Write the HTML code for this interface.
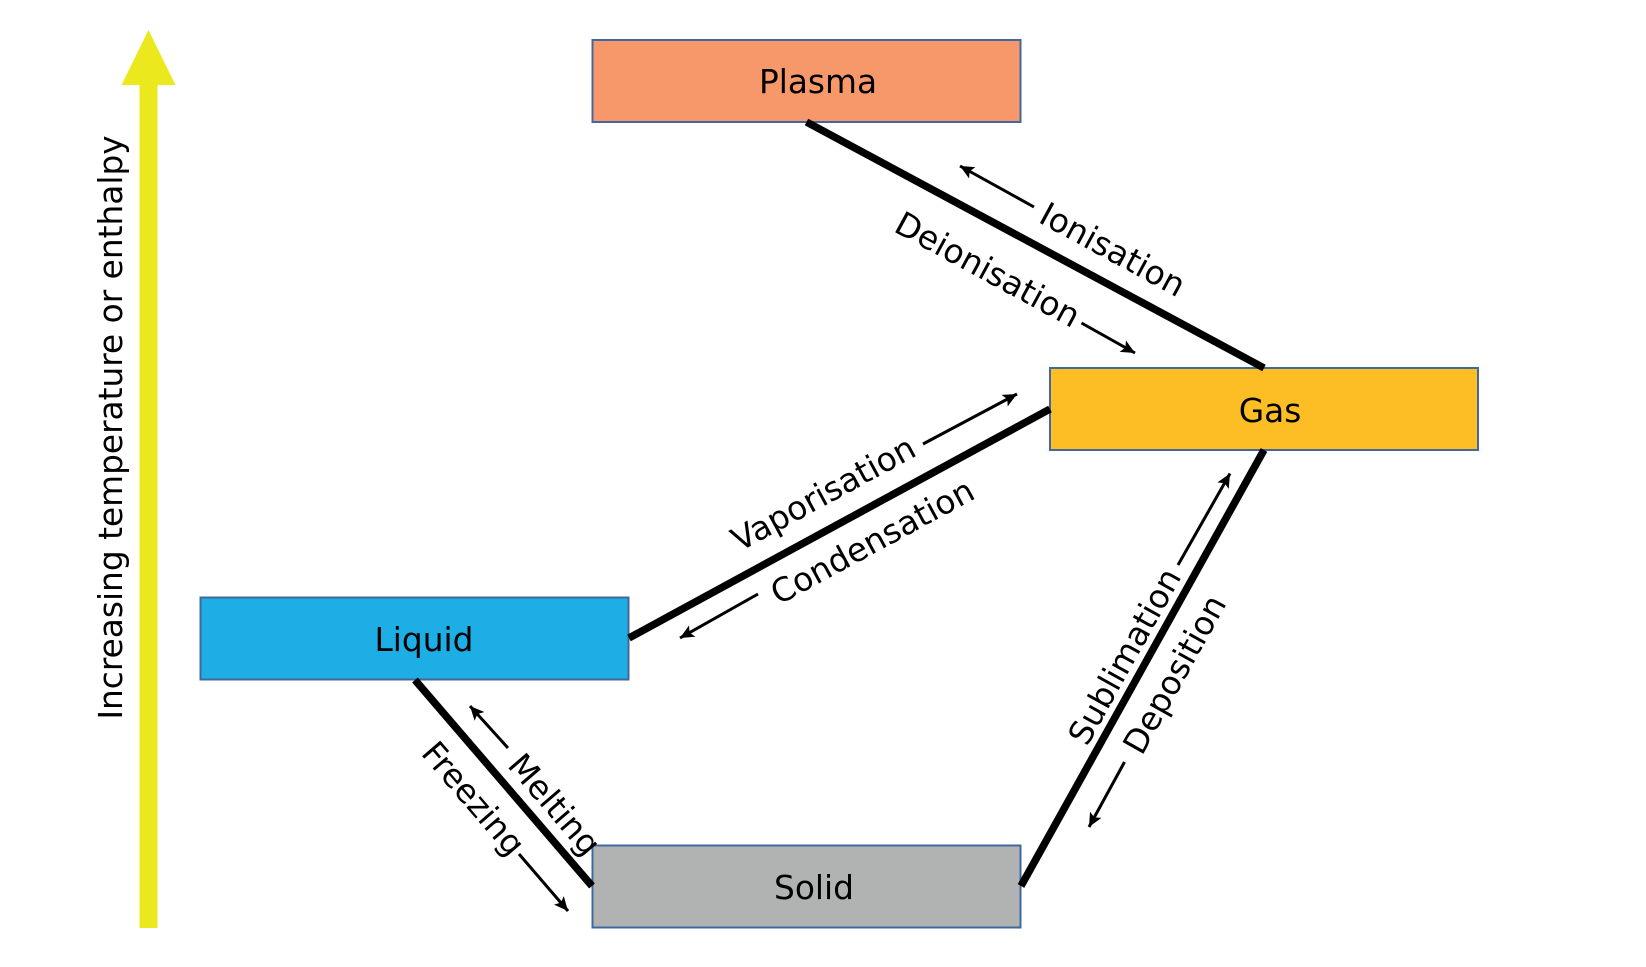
<!DOCTYPE html>
<html><head><meta charset="utf-8"><style>
html,body{margin:0;padding:0;background:#fff;width:1646px;height:967px;overflow:hidden}
svg{display:block}
text{font-family:"DejaVu Sans",sans-serif;font-size:32.8px;fill:#000;text-anchor:middle}
.b{stroke:#41689c;stroke-width:2}
.l{stroke:#000;stroke-width:7.5;fill:none}
.a{stroke:#000;stroke-width:3;fill:none;marker-end:url(#m)}
</style></head><body>
<svg width="1646" height="967" viewBox="0 0 1646 967" xmlns="http://www.w3.org/2000/svg">
<defs><marker id="m" markerUnits="userSpaceOnUse" markerWidth="15" markerHeight="13" refX="14" refY="6.5" orient="auto"><path d="M0 0L14 6.5L0 13L3 6.5Z" fill="#000"/></marker></defs>
<path d="M139.5 928V85H121.5L148.5 30L175.5 85H157.5V928Z" fill="#ece81e"/>
<rect class="b" x="592.5" y="40" width="428" height="82" fill="#f7986b"/>
<rect class="b" x="1050" y="368" width="428" height="82" fill="#fdbe25"/>
<rect class="b" x="200.5" y="597.5" width="428" height="82" fill="#1eaee6"/>
<rect class="b" x="592.5" y="845.5" width="428" height="82" fill="#b1b3b3"/>
<line class="l" x1="806.5" y1="122" x2="1264" y2="368"/>
<line class="l" x1="1050" y1="409" x2="629" y2="638"/>
<line class="l" x1="1264" y1="450" x2="1021" y2="886"/>
<line class="l" x1="415" y1="680" x2="592" y2="886"/>
<line class="a" x1="1034" y1="207" x2="960" y2="166"/>
<line class="a" x1="1081.5" y1="323" x2="1135" y2="353"/>
<line class="a" x1="923" y1="444" x2="1017" y2="394"/>
<line class="a" x1="758" y1="594" x2="680" y2="638"/>
<line class="a" x1="1178" y1="565" x2="1230" y2="473.5"/>
<line class="a" x1="1124.5" y1="762" x2="1089" y2="827"/>
<line class="a" x1="508" y1="748" x2="470" y2="706"/>
<line class="a" x1="519" y1="854" x2="568" y2="911"/>
<text x="818" y="93">Plasma</text>
<text x="1270" y="422">Gas</text>
<text x="424" y="651">Liquid</text>
<text x="814" y="899">Solid</text>
<text transform="translate(110 427.5) rotate(-90)" y="12">Increasing temperature or enthalpy</text>
<text transform="translate(1113 249) rotate(28.5)" y="12">Ionisation</text>
<text transform="translate(988 269) rotate(28.5)" y="12">Deionisation</text>
<text transform="translate(823 493) rotate(-28.5)" y="12">Vaporisation</text>
<text transform="translate(872 541) rotate(-28.5)" y="12">Condensation</text>
<text transform="translate(1124 656) rotate(-60.9)" y="12">Sublimation</text>
<text transform="translate(1174 674) rotate(-60.9)" y="12">Deposition</text>
<text transform="translate(555 804) rotate(49.3)" y="12">Melting</text>
<text transform="translate(474 798) rotate(49.3)" y="12">Freezing</text>
</svg>
</body></html>
